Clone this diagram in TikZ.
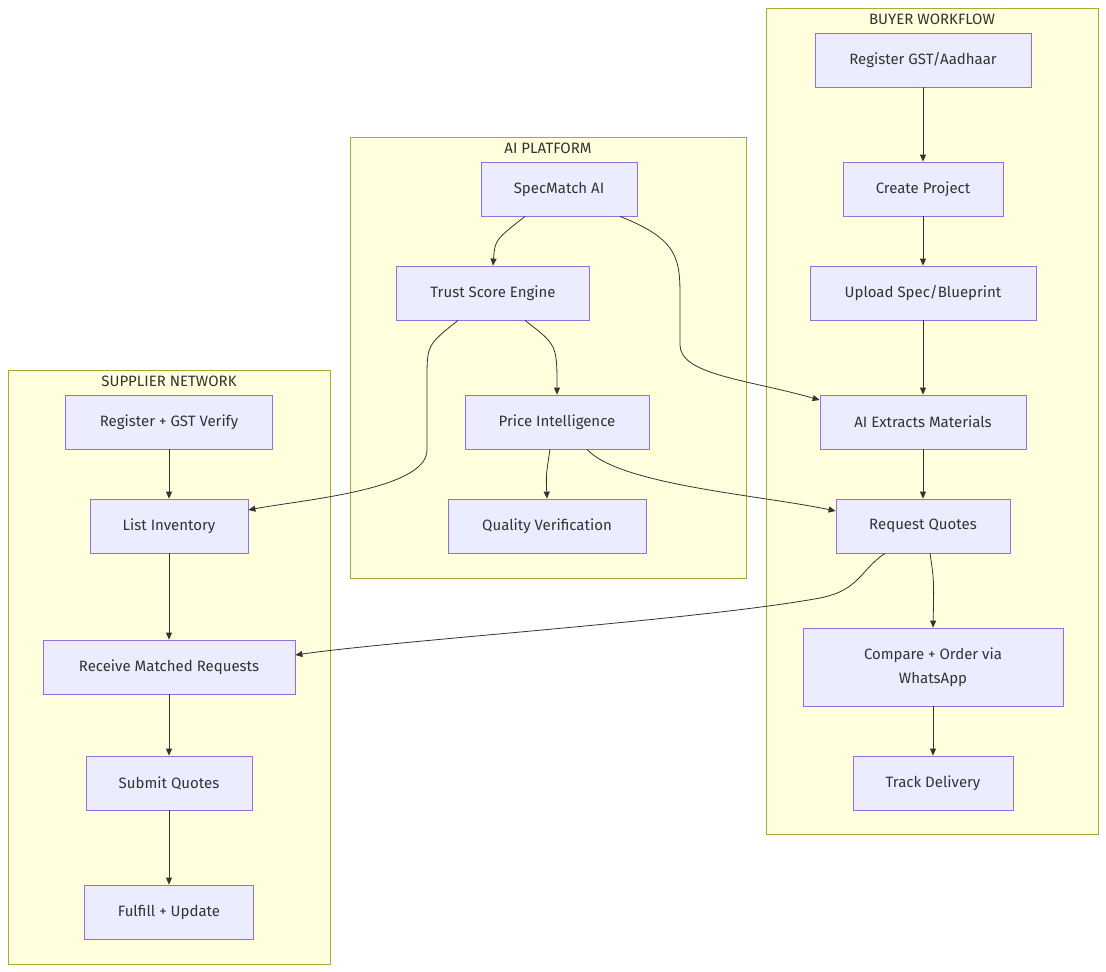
\documentclass[tikz,border=0pt]{standalone}
\usepackage{fontspec}
\setmainfont{Fira Sans}
\usetikzlibrary{arrows.meta}
\definecolor{nfill}{HTML}{ECECFF}
\definecolor{nline}{HTML}{9370DB}
\definecolor{cfill}{HTML}{FFFFDE}
\definecolor{cline}{HTML}{AAAA33}
\definecolor{txt}{HTML}{333333}
\begin{document}
\begin{tikzpicture}[x=1pt,y=-1pt,
  box/.style={draw=nline,fill=nfill,line width=0.8pt,minimum height=54pt,inner sep=0pt,align=center,font=\fontsize{15}{24}\selectfont,text=txt},
  clu/.style={draw=cline,fill=cfill,line width=0.8pt},
  ttl/.style={font=\fontsize{15}{18}\selectfont,text=txt},
  ar/.style={draw=txt,line width=0.8pt,-{Triangle[length=7pt,width=6pt]}}]
\useasboundingbox (0,0) rectangle (1106,972);
\fill[white] (0,0) rectangle (1106,972);
\draw[clu] (766,8) rectangle (1098,834);
\node[ttl] at (932,19) {BUYER WORKFLOW};
\draw[clu] (350,137) rectangle (746,578);
\node[ttl] at (548,148) {AI PLATFORM};
\draw[clu] (8,370) rectangle (330,964);
\node[ttl] at (169,381) {SUPPLIER NETWORK};
\node[box,minimum width=216pt] (b1) at (923,60) {Register GST/Aadhaar};
\node[box,minimum width=160pt] (b2) at (923,189) {Create Project};
\node[box,minimum width=226pt] (b3) at (923,293) {Upload Spec/Blueprint};
\node[box,minimum width=206pt] (b4) at (923,422) {AI Extracts Materials};
\node[box,minimum width=174pt] (b5) at (923,526) {Request Quotes};
\node[box,minimum width=260pt,minimum height=78pt] (b6) at (933,667) {Compare + Order via\\WhatsApp};
\node[box,minimum width=160pt] (b7) at (933,783) {Track Delivery};
\node[box,minimum width=156pt] (a1) at (559,189) {SpecMatch AI};
\node[box,minimum width=193pt] (a2) at (493,293) {Trust Score Engine};
\node[box,minimum width=184pt] (a3) at (557,422) {Price Intelligence};
\node[box,minimum width=198pt] (a4) at (547,526) {Quality Verification};
\node[box,minimum width=207pt] (s1) at (169,422) {Register + GST Verify};
\node[box,minimum width=158pt] (s2) at (169,526) {List Inventory};
\node[box,minimum width=252pt] (s3) at (169,667) {Receive Matched Requests};
\node[box,minimum width=166pt] (s4) at (169,783) {Submit Quotes};
\node[box,minimum width=169pt] (s5) at (169,912) {Fulfill + Update};
\draw[ar] (b1) -- (b2);
\draw[ar] (b2) -- (b3);
\draw[ar] (b3) -- (b4);
\draw[ar] (b4) -- (b5);
\draw[ar] (b5.south -| 930,0) .. controls (934,580) .. (b6.north);
\draw[ar] (b6) -- (b7);
\draw[ar] (s1) -- (s2);
\draw[ar] (s2) -- (s3);
\draw[ar] (s3) -- (s4);
\draw[ar] (s4) -- (s5);
\draw[ar] (a1.south -| 525,0) .. controls (495,240) .. (a2.north);
\draw[ar] (a1.south -| 620,0) .. controls (680,240) and (680,260) .. (680,300) -- (680,345) .. controls (680,375) and (750,380) .. (b4.west |- 0,400);
\draw[ar] (a2.south -| 525,0) .. controls (557,345) .. (a3.north);
\draw[ar] (a2.south -| 458,0) .. controls (427,345) and (427,345) .. (427,380) -- (427,450) .. controls (427,490) and (300,500) .. (s2.east |- 0,510);
\draw[ar] (a3.south -| 550,0) .. controls (546,475) .. (a4.north);
\draw[ar] (a3.south -| 587,0) .. controls (620,485) and (760,495) .. (b5.west |- 0,511);
\draw[ar] (b5.south -| 885,0) .. controls (860,570) and (860,590) .. (820,598) .. controls (700,620) and (400,640) .. (s3.east |- 0,655);
\end{tikzpicture}
\end{document}
